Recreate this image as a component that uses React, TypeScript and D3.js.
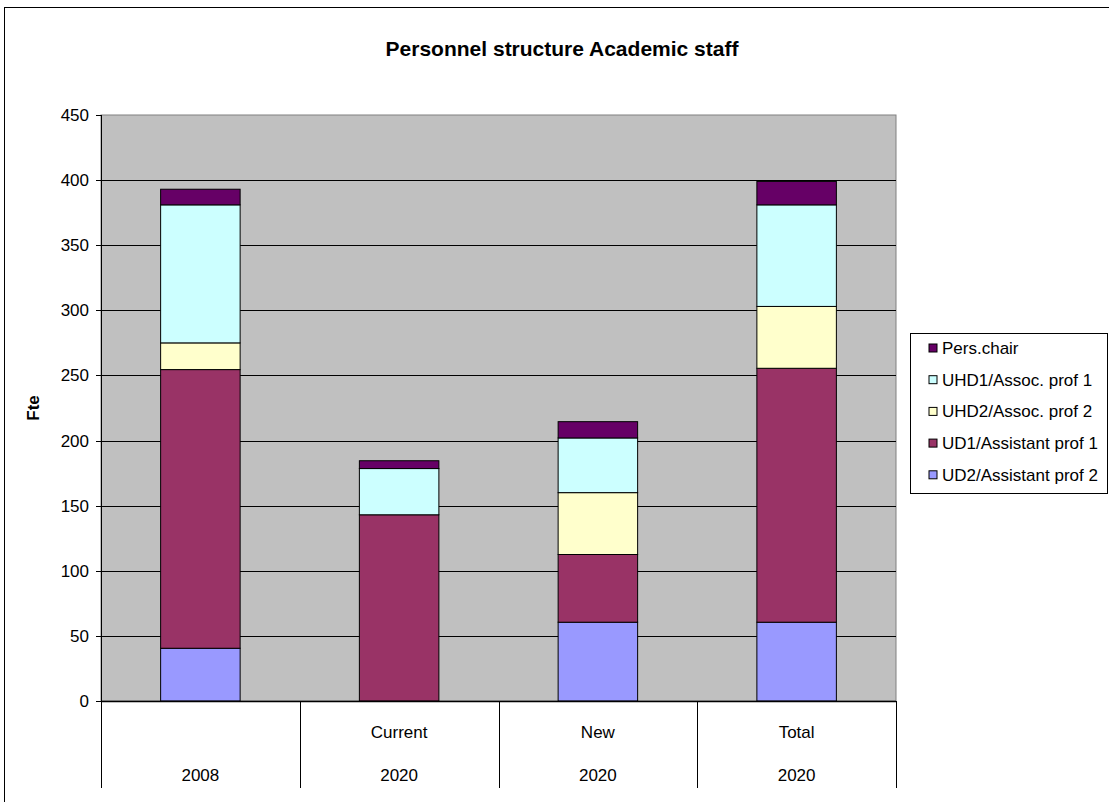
import React from "react";
import * as d3 from "d3";

const categories = ["2008|", "Current|2020", "New|2020", "Total|2020"];
const catTop = ["", "Current", "New", "Total"];
const catBottom = ["2008", "2020", "2020", "2020"];
const seriesNames = ["UD2/Assistant prof 2", "UD1/Assistant prof 1", "UHD2/Assoc. prof 2", "UHD1/Assoc. prof 1", "Pers.chair"];
const seriesColors = ["#9999FF", "#993366", "#FFFFCC", "#CCFFFF", "#660066"];
const ud2 = [40.5, 0, 60.5, 60.5];
const ud1 = [214, 143, 52, 195];
const uhd2 = [20.5, 0, 47.5, 47.5];
const uhd1 = [106, 35.5, 42, 78];
const persChair = [12, 6, 12.5, 18];
const yTicks = [0, 50, 100, 150, 200, 250, 300, 350, 400, 450];

export default function App() {
  const W = 1109, H = 802;
  const left = 101, right = 896, top = 115, bottom = 701;
  const x = d3.scaleBand<string>().domain(categories).range([left, right]).paddingInner(0).paddingOuter(0);
  const y = d3.scaleLinear().domain([0, 450]).range([bottom, top]);
  const rows = categories.map((c, i) => ({ cat: c, s0: ud2[i], s1: ud1[i], s2: uhd2[i], s3: uhd1[i], s4: persChair[i] }));
  const stack = d3.stack<any>().keys(["s0", "s1", "s2", "s3", "s4"])(rows);
  const bw = x.bandwidth() * 0.4;
  const font = "Arial, 'Liberation Sans', sans-serif";
  const legendOrder = [4, 3, 2, 1, 0];
  return (
    <svg width={W} height={H} style={{ position: "absolute", left: 0, top: 0 }} fontFamily={font}>
      <rect x={0} y={0} width={W} height={H} fill="#fff" />
      <rect x={4.5} y={7.5} width={W + 10} height={H + 10} fill="none" stroke="#000" strokeWidth={1} />
      <text x={562} y={56} textAnchor="middle" fontWeight="bold" fontSize={21}>Personnel structure Academic staff</text>
      <rect x={left} y={top} width={right - left} height={bottom - top} fill="#C0C0C0" stroke="#808080" strokeWidth={1} />
      {yTicks.filter(t => t > 0 && t < 450).map(t => (
        <line key={t} x1={left} x2={right} y1={Math.round(y(t)) + 0.5} y2={Math.round(y(t)) + 0.5} stroke="#000" strokeWidth={1} />
      ))}
      {stack.map((s, si) => s.map((d, i) => (
        d[1] - d[0] > 0 ? (
          <rect key={si + "-" + i} x={(x(categories[i]) as number) + (x.bandwidth() - bw) / 2} y={y(d[1])}
            width={bw} height={y(d[0]) - y(d[1])} fill={seriesColors[si]} stroke="#000" strokeWidth={1} />
        ) : null
      )))}
      {/* y axis */}
      <line x1={left + 0.5} x2={left + 0.5} y1={top} y2={bottom} stroke="#000" />
      {yTicks.map(t => (
        <g key={t}>
          <line x1={left - 5} x2={left} y1={Math.round(y(t)) + 0.5} y2={Math.round(y(t)) + 0.5} stroke="#000" />
          <text x={left - 12} y={y(t)} dy="0.35em" textAnchor="end" fontSize={17}>{t}</text>
        </g>
      ))}
      <text transform={`translate(39,408) rotate(-90)`} textAnchor="middle" fontWeight="bold" fontSize={17}>Fte</text>
      {/* category axis */}
      <line x1={left} x2={right} y1={bottom + 0.5} y2={bottom + 0.5} stroke="#000" strokeWidth={1.5} />
      {[...categories.map(c => x(c) as number), right].map((xx, i) => (
        <line key={i} x1={Math.round(xx) + 0.5} x2={Math.round(xx) + 0.5} y1={bottom} y2={788} stroke="#000" />
      ))}
      {categories.map((c, i) => (
        <g key={c}>
          <text x={(x(c) as number) + x.bandwidth() / 2} y={732} dy="0.35em" textAnchor="middle" fontSize={17}>{catTop[i]}</text>
          <text x={(x(c) as number) + x.bandwidth() / 2} y={775} dy="0.35em" textAnchor="middle" fontSize={17}>{catBottom[i]}</text>
        </g>
      ))}
      {/* legend */}
      <rect x={910.5} y={333.5} width={197} height={160} fill="#fff" stroke="#000" />
      {legendOrder.map((si, k) => (
        <g key={si} transform={`translate(929,${348 + k * 31.7})`}>
          <rect x={0} y={-4} width={8} height={8} fill={seriesColors[si]} stroke="#000" />
          <text x={13} y={0} dy="0.35em" fontSize={17}>{seriesNames[si]}</text>
        </g>
      ))}
    </svg>
  );
}
